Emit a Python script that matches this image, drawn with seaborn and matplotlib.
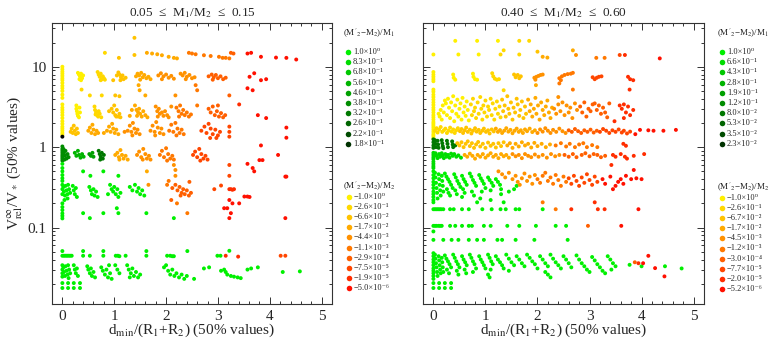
import numpy as np
import pandas as pd
import matplotlib
matplotlib.use("Agg")
import seaborn as sns
import matplotlib.pyplot as plt
from matplotlib.ticker import FixedLocator, FixedFormatter, LogLocator, NullFormatter, MultipleLocator


# colour keys: y0..y9 go yellow -> red, g0..g9 go light -> dark green
YR_COLORS = ["#fff000", "#ffd800", "#ffc300", "#ffaa00", "#ff9100",
             "#ff7800", "#ff5f00", "#ff4600", "#ff2d00", "#ff1000"]
G_COLORS = ["#00f000", "#00dc00", "#00c800", "#00b400", "#00a000",
            "#008c00", "#007800", "#006400", "#004b00", "#003200"]

left_green_labels = ["1.0×10⁰", "8.3×10⁻¹", "6.8×10⁻¹", "5.6×10⁻¹", "4.6×10⁻¹",
                     "3.8×10⁻¹", "3.2×10⁻¹", "2.6×10⁻¹", "2.2×10⁻¹", "1.8×10⁻¹"]
left_yr_labels = ["−1.0×10⁰", "−2.6×10⁻¹", "−6.6×10⁻²", "−1.7×10⁻²", "−4.4×10⁻³",
                  "−1.1×10⁻³", "−2.9×10⁻⁴", "−7.5×10⁻⁵", "−1.9×10⁻⁵", "−5.0×10⁻⁶"]
right_green_labels = ["1.0×10⁰", "6.6×10⁻¹", "4.3×10⁻¹", "2.8×10⁻¹", "1.9×10⁻¹",
                      "1.2×10⁻¹", "8.0×10⁻²", "5.3×10⁻²", "3.5×10⁻²", "2.3×10⁻²"]
right_yr_labels = ["−1.0×10⁰", "−2.6×10⁻¹", "−6.7×10⁻²", "−1.7×10⁻²", "−4.5×10⁻³",
                   "−1.2×10⁻³", "−3.0×10⁻⁴", "−7.7×10⁻⁵", "−2.0×10⁻⁵", "−5.2×10⁻⁶"]

# ---------------- left panel (0.05 <= M1/M2 <= 0.15) ----------------
left_top = [
    ("y1", [(0.82, 14.9)]),
    ("y2", [(1.09, 12.9), (1.39, 22.9), (1.39, 14.0)]),
    ("y3", [(1.63, 14.9), (1.73, 14.6), (1.83, 14.3), (1.92, 13.9), (2.05, 13.3), (2.15, 12.9), (2.21, 12.7)]),
    ("y5", [(2.44, 14.9), (2.50, 14.6), (2.57, 14.3), (2.73, 13.9), (2.86, 13.6), (3.02, 13.3),
            (3.09, 12.9), (3.15, 12.9), (3.22, 12.7)]),
    ("y6", [(3.25, 14.9), (3.30, 14.6)]),
    ("y9", [(3.57, 14.6), (3.64, 14.9), (3.83, 13.3), (4.12, 13.0), (4.32, 12.9), (4.51, 12.3)]),
]
left_x0 = [
    ("y0", [(0, 10.0), (0, 9.3), (0, 8.7), (0, 8.2), (0, 7.7), (0, 7.2), (0, 6.8), (0, 6.3), (0, 5.8),
            (0, 5.4), (0, 5.0), (0, 4.5), (0, 4.1), (0, 3.4), (0, 3.1), (0, 2.9), (0, 2.7), (0, 2.5),
            (0, 2.3), (0, 2.1), (0, 1.95), (0, 1.8), (0, 1.7), (0, 1.6), (0, 1.5), (0, 1.42)]),
    ("k", [(0, 1.35)]),
    ("g5", [(0, 1.02), (0, 0.95), (0, 0.9), (0, 0.85), (0, 0.8), (0, 0.76), (0, 0.72), (0, 0.68)]),
    ("g0", [(0, 0.62), (0, 0.55), (0, 0.5), (0, 0.45), (0, 0.41), (0, 0.38), (0, 0.2), (0, 0.18),
            (0, 0.165), (0, 0.15), (0, 0.14), (0, 0.13), (0, 0.051)]),
]
left_band8 = [
    ("y0", [(0.30, 8.4), (0.32, 8.0), (0.34, 7.6), (0.36, 8.2), (0.38, 7.2), (0.33, 7.0), (0.40, 7.8), (0.36, 6.8)]),
    ("y1", [(0.68, 8.6), (0.70, 8.0), (0.72, 7.5), (0.74, 8.2), (0.76, 7.0), (0.78, 7.6), (0.80, 7.2),
            (0.82, 6.9), (0.74, 6.8)]),
    ("y2", [(1.05, 7.8), (1.08, 8.5), (1.10, 8.0), (1.13, 7.4), (1.16, 7.8), (1.18, 7.0), (1.22, 7.3),
            (1.12, 6.8), (0.98, 6.8)]),
    ("y3", [(1.42, 7.6), (1.45, 8.2), (1.48, 7.8), (1.52, 8.4), (1.55, 7.4), (1.58, 7.9), (1.62, 7.2),
            (1.66, 7.5), (1.50, 6.9), (1.70, 7.0)]),
    ("y4", [(1.85, 7.8), (1.90, 8.3), (1.95, 7.6), (2.00, 8.0), (2.05, 7.3), (2.10, 7.7), (1.92, 7.0),
            (2.15, 7.1), (2.28, 8.2), (2.32, 7.8), (2.36, 8.4), (2.40, 7.5), (2.45, 7.9), (2.50, 7.2),
            (2.38, 7.0), (2.55, 7.4)]),
    ("y6", [(2.82, 7.6), (2.88, 8.0), (2.92, 7.4), (2.96, 7.9), (3.00, 7.2), (3.05, 7.6), (3.10, 7.0),
            (3.15, 7.3), (2.90, 6.9)]),
    ("y9", [(3.61, 7.5), (3.70, 8.3), (3.83, 6.8), (3.93, 7.0), (3.57, 5.4), (3.67, 5.1)]),
]
left_band5 = [
    ("y1", [(0.37, 5.2), (0.53, 4.4), (0.76, 4.4)]),
    ("y2", [(1.02, 4.4), (1.10, 4.3)]),
    ("y3", [(1.47, 5.9), (1.49, 5.1), (1.60, 4.4)]),
    ("y4", [(2.18, 4.4)]),
    ("y5", [(2.57, 5.9), (2.60, 5.1)]),
    ("y6", [(3.22, 4.4)]),
]
left_band27 = [
    ("y0", [(0.27, 3.3), (0.27, 3.0), (0.28, 2.8), (0.29, 2.6), (0.30, 2.45), (0.32, 2.35), (0.34, 2.7), (0.33, 3.1)]),
    ("y1", [(0.62, 3.2), (0.63, 2.9), (0.65, 2.7), (0.67, 2.5), (0.69, 2.4), (0.72, 2.6), (0.70, 2.8),
            (0.75, 2.35), (0.64, 2.55)]),
    ("y2", [(0.90, 2.8), (0.95, 3.0), (0.98, 2.7), (1.00, 3.3), (1.02, 2.5), (1.05, 2.9), (1.08, 2.4),
            (1.10, 2.6), (1.12, 2.35), (1.04, 2.4)]),
    ("y3", [(1.40, 3.3), (1.43, 2.9), (1.46, 2.7), (1.48, 3.0), (1.50, 2.6), (1.53, 2.4), (1.56, 2.8),
            (1.60, 2.5), (1.64, 2.35), (1.44, 2.45), (1.34, 2.9), (1.30, 2.45)]),
    ("y4", [(1.80, 3.2), (1.83, 2.8), (1.86, 3.0), (1.88, 2.6), (1.92, 2.7), (1.95, 2.45), (1.98, 2.8),
            (2.02, 2.5), (2.05, 2.35), (1.84, 2.4), (2.10, 3.2)]),
    ("y5", [(2.20, 3.1), (2.24, 2.8), (2.27, 3.3), (2.30, 2.6), (2.33, 2.9), (2.36, 2.5), (2.40, 2.7),
            (2.44, 2.4), (2.48, 2.55), (2.25, 2.4), (2.60, 3.3)]),
    ("y6", [(2.82, 3.0), (2.86, 2.7), (2.90, 3.2), (2.94, 2.5), (2.98, 2.8), (3.02, 2.4), (3.06, 2.65),
            (3.10, 2.35), (3.14, 2.5), (3.00, 3.3)]),
    ("y8", [(3.41, 3.4)]),
    ("y9", [(3.77, 2.5), (3.93, 2.3)]),
]
left_band17 = [
    ("y2", [(0.16, 1.55), (0.18, 1.7), (0.20, 1.5), (0.22, 1.85), (0.24, 1.6), (0.26, 1.45), (0.28, 1.7), (0.30, 1.5)]),
    ("y3", [(0.50, 1.6), (0.53, 1.75), (0.56, 1.5), (0.58, 1.9), (0.60, 1.65), (0.63, 1.45), (0.66, 1.6),
            (0.69, 1.5), (0.86, 1.6), (0.90, 1.8), (0.93, 1.55), (0.96, 1.95), (0.98, 1.7), (1.01, 1.5),
            (1.04, 1.65), (1.08, 1.45), (0.80, 1.5)]),
    ("y4", [(1.26, 1.6), (1.30, 1.85), (1.33, 1.55), (1.36, 2.0), (1.39, 1.7), (1.42, 1.5), (1.45, 1.65),
            (1.49, 1.45), (1.35, 1.4), (1.20, 1.55), (1.70, 1.6), (1.74, 1.85), (1.78, 1.55), (1.81, 2.05),
            (1.84, 1.75), (1.88, 1.5), (1.91, 1.7), (1.95, 1.45), (1.79, 1.4)]),
    ("y5", [(2.06, 1.6), (2.10, 1.9), (2.14, 1.55), (2.18, 2.0), (2.22, 1.7), (2.26, 1.5), (2.30, 1.65),
            (2.34, 1.45), (2.20, 1.4)]),
    ("y7", [(2.68, 1.6), (2.74, 1.8), (2.78, 1.5), (2.82, 1.95), (2.86, 1.7), (2.90, 1.45), (2.95, 1.65),
            (3.00, 1.4), (3.04, 1.55), (2.85, 1.3), (2.97, 1.3), (3.22, 1.8), (3.22, 1.55), (3.22, 1.35)]),
    ("y9", [(4.32, 1.75), (4.32, 1.31), (3.83, 1.05), (4.16, 0.8)]),
]
left_band08 = [
    ("g5", [(0.02, 0.95), (0.03, 0.85), (0.05, 0.78), (0.06, 0.9), (0.08, 0.72), (0.10, 0.82), (0.12, 0.75), (0.04, 0.7)]),
    ("g3", [(0.24, 0.85), (0.27, 0.78), (0.30, 0.9), (0.32, 0.8), (0.35, 0.74), (0.38, 0.82), (0.41, 0.76)]),
    ("g4", [(0.52, 0.82), (0.55, 0.78), (0.58, 0.85), (0.60, 0.76)]),
    ("g6", [(0.70, 0.9), (0.72, 0.82), (0.74, 0.76), (0.76, 0.85), (0.78, 0.72), (0.80, 0.8), (0.73, 0.7)]),
    ("y3", [(1.02, 0.8), (1.06, 0.85), (1.09, 0.75), (1.12, 0.92), (1.15, 0.8), (1.18, 0.72), (1.22, 0.78),
            (1.26, 0.7), (1.10, 0.7)]),
    ("y4", [(1.44, 0.8), (1.48, 0.88), (1.52, 0.75), (1.56, 0.95), (1.60, 0.82), (1.63, 0.72), (1.67, 0.78),
            (1.70, 0.7), (1.55, 0.7)]),
    ("y5", [(1.88, 0.8), (1.92, 0.9), (1.96, 0.75), (2.00, 0.97), (2.04, 0.82), (2.08, 0.72), (2.12, 0.78),
            (2.15, 0.7), (2.02, 0.68)]),
    ("y7", [(2.52, 0.8), (2.56, 0.88), (2.60, 0.75), (2.64, 0.95), (2.68, 0.82), (2.72, 0.72), (2.76, 0.78),
            (2.80, 0.7), (2.66, 0.68)]),
]
left_band05 = [
    ("g0", [(0.40, 0.5), (0.54, 0.44), (0.79, 0.5), (1.08, 0.44)]),
    ("y3", [(1.63, 0.5)]),
    ("y4", [(2.15, 0.6), (2.18, 0.52), (2.18, 0.44)]),
    ("y7", [(3.22, 0.6), (3.22, 0.44)]),
    ("y9", [(3.57, 0.62), (3.67, 0.55), (3.70, 0.5), (3.80, 0.69), (3.86, 0.69), (4.32, 0.43)]),
]
left_band03 = [
    ("g0", [(0.0, 0.34), (0.0, 0.30), (0.0, 0.26), (0.02, 0.32), (0.03, 0.28), (0.05, 0.25), (0.06, 0.33),
            (0.08, 0.29), (0.10, 0.26), (0.11, 0.34), (0.13, 0.3), (0.15, 0.27), (0.04, 0.22), (0.10, 0.23),
            (0.20, 0.33), (0.22, 0.29), (0.24, 0.26), (0.26, 0.31), (0.28, 0.24),
            (0.52, 0.32), (0.55, 0.29), (0.57, 0.26), (0.60, 0.3), (0.62, 0.25), (0.65, 0.28), (0.68, 0.24),
            (0.92, 0.34), (0.95, 0.3), (0.98, 0.28), (1.00, 0.32), (1.03, 0.26), (1.06, 0.3), (1.08, 0.24),
            (1.12, 0.27), (0.88, 0.26), (1.30, 0.32), (1.35, 0.29), (1.40, 0.34), (1.44, 0.28), (1.47, 0.31),
            (1.50, 0.26), (1.54, 0.29), (1.58, 0.25), (0.40, 0.151), (0.53, 0.131), (0.79, 0.151),
            (1.05, 0.174), (1.08, 0.151), (1.62, 0.151), (2.15, 0.131)]),
    ("y4", [(1.66, 0.34)]),
    ("y5", [(2.02, 0.34), (2.05, 0.38), (2.21, 0.2), (2.41, 0.151)]),
    ("y6", [(2.12, 0.31), (2.18, 0.34), (2.22, 0.29), (2.26, 0.32), (2.30, 0.27), (2.33, 0.3), (2.36, 0.26),
            (2.40, 0.29), (2.44, 0.25), (2.48, 0.27), (2.28, 0.25), (2.10, 0.22), (2.45, 0.37)]),
    ("y7", [(2.93, 0.30), (3.06, 0.333)]),
    ("y8", [(3.22, 0.30), (3.25, 0.30), (3.28, 0.295), (3.31, 0.30)]),
    ("y9", [(3.22, 0.22), (3.28, 0.20), (3.12, 0.174), (3.18, 0.174), (3.25, 0.151), (3.22, 0.131),
            (3.41, 0.20), (3.51, 0.243), (3.57, 0.243), (3.61, 0.24), (4.30, 0.43), (4.30, 0.131)]),
]
left_band005 = [
    ("g0", [(0.0, 0.0446), (0.03, 0.0446), (0.06, 0.0446), (0.09, 0.0446), (0.12, 0.0446), (0.15, 0.0446),
            (0.18, 0.0446), (0.40, 0.051), (0.40, 0.0446), (0.53, 0.0446), (0.79, 0.051), (0.79, 0.0446),
            (1.03, 0.0446), (1.07, 0.0446), (1.10, 0.044), (1.22, 0.0446), (1.62, 0.051), (1.62, 0.0446),
            (2.02, 0.0446), (2.08, 0.0446), (2.12, 0.044), (2.15, 0.044), (2.41, 0.051), (2.99, 0.0446),
            (3.05, 0.0446), (3.22, 0.0514)]),
    ("y8", [(3.15, 0.0446), (3.39, 0.0435)]),
    ("y7", [(4.21, 0.0446), (4.30, 0.0446)]),
]
left_band0026 = [
    ("g0", [(0.0, 0.034), (0.0, 0.030), (0.0, 0.027), (0.0, 0.0245), (0.02, 0.032), (0.03, 0.028),
            (0.05, 0.025), (0.06, 0.033), (0.08, 0.029), (0.10, 0.026), (0.11, 0.034), (0.13, 0.03),
            (0.15, 0.027), (0.12, 0.0235), (0.22, 0.034), (0.24, 0.03), (0.26, 0.027), (0.28, 0.031),
            (0.30, 0.025), (0.48, 0.033), (0.50, 0.03), (0.53, 0.027), (0.55, 0.031), (0.57, 0.025),
            (0.60, 0.028), (0.63, 0.024), (0.75, 0.032), (0.78, 0.029), (0.82, 0.026), (0.85, 0.03),
            (0.88, 0.024), (0.92, 0.027), (0.95, 0.023), (0.90, 0.034), (1.02, 0.034), (1.06, 0.03),
            (1.10, 0.027), (1.25, 0.034), (1.28, 0.03), (1.32, 0.027), (1.35, 0.031), (1.38, 0.025),
            (1.42, 0.028), (1.46, 0.024), (1.50, 0.026), (1.30, 0.024), (1.96, 0.032), (2.00, 0.034),
            (2.04, 0.029), (2.08, 0.026), (2.12, 0.03), (2.16, 0.025), (2.20, 0.027), (2.25, 0.024),
            (2.30, 0.026), (2.35, 0.023), (2.40, 0.025), (2.54, 0.023), (2.73, 0.031), (2.83, 0.032),
            (3.06, 0.029), (3.12, 0.03), (3.15, 0.028), (3.18, 0.026), (3.25, 0.025), (3.31, 0.0245),
            (3.38, 0.024), (3.44, 0.0235), (3.57, 0.030), (3.64, 0.031), (3.77, 0.032), (4.25, 0.028),
            (4.58, 0.0285)]),
]
left_bottom = [
    ("g0", [(0.0, 0.0204), (0.11, 0.0204), (0.22, 0.0204), (0.34, 0.0204),
            (0.0, 0.0177), (0.11, 0.0177), (0.22, 0.0177), (0.34, 0.0177)]),
]

# ---------------- right panel (0.40 <= M1/M2 <= 0.60) ----------------
right_top = [
    ("y0", [(0.42, 21.0), (0.84, 21.0), (1.24, 21.0), (0.0, 14.2), (0.48, 14.2), (0.87, 14.2)]),
    ("y1", [(1.65, 21.0), (1.84, 21.0), (1.29, 14.2), (1.35, 16.0), (1.65, 14.2)]),
    ("y2", [(2.00, 15.4)]),
    ("y3", [(2.10, 13.3), (2.19, 13.0), (2.68, 16.0)]),
    ("y4", [(2.74, 14.0)]),
    ("y5", [(3.13, 12.9), (3.29, 12.9)]),
    ("y7", [(3.58, 14.0)]),
    ("y8", [(3.68, 14.0)]),
    ("y9", [(4.35, 12.7)]),
]
right_band8 = [
    ("y0", [(0, 8.6), (0, 8.0), (0, 7.5), (0, 7.0), (0, 6.6), (0, 5.2), (0, 4.9), (0.38, 8.0), (0.39, 7.3),
            (0.42, 6.9), (0.76, 8.2), (0.77, 7.5), (0.80, 7.0), (0.84, 6.9)]),
    ("y1", [(1.13, 8.3), (1.15, 7.6), (1.18, 7.1), (1.22, 6.9), (1.26, 7.0), (1.35, 5.1)]),
    ("y2", [(1.55, 8.0), (1.58, 7.4), (1.62, 7.9), (1.65, 7.2), (1.68, 7.6)]),
    ("y3", [(1.97, 5.9)]),
    ("y4", [(1.94, 7.3), (1.98, 7.5), (2.02, 7.7), (2.06, 7.9), (2.10, 8.0), (1.96, 6.9)]),
    ("y5", [(2.42, 7.2), (2.47, 7.6), (2.52, 7.9), (2.58, 8.1), (2.64, 8.2), (2.68, 8.4), (2.45, 6.8),
            (2.68, 5.2), (2.42, 6.2)]),
    ("y7", [(3.06, 7.4), (3.10, 7.0), (3.14, 7.3), (3.18, 7.5), (3.23, 7.6)]),
    ("y8", [(3.74, 7.5), (3.78, 7.0), (3.84, 6.8), (3.77, 5.2)]),
]
right_band3 = [
    ("y0", [(0, 4.5), (0, 4.2), (0, 3.9), (0, 3.6), (0, 3.35), (0, 3.1), (0, 2.9), (0, 2.7), (0, 2.5),
            (0, 2.35), (0, 2.2), (0, 2.05), (0, 1.95), (0, 1.85), (0, 1.75), (0, 1.65), (0, 1.55), (0, 1.45),
            (0, 1.38), (0, 1.3), (0.10, 2.6), (0.12, 2.4), (0.14, 2.9), (0.16, 2.2), (0.18, 3.3), (0.20, 2.7),
            (0.22, 3.8), (0.24, 3.5), (0.26, 2.5), (0.28, 4.0), (0.30, 3.1), (0.32, 2.3), (0.34, 3.6),
            (0.36, 2.8), (0.38, 4.3), (0.40, 2.1), (0.42, 3.3), (0.44, 2.6), (0.46, 3.9), (0.48, 2.4),
            (0.50, 3.0), (0.52, 3.5), (0.54, 2.2), (0.56, 4.1), (0.58, 2.7), (0.60, 3.2), (0.62, 2.45),
            (0.64, 3.7), (0.66, 2.9), (0.68, 2.15)]),
    ("y1", [(0.72, 3.4), (0.74, 2.5), (0.76, 4.0), (0.78, 2.8), (0.80, 3.1), (0.82, 2.3), (0.85, 3.6),
            (0.87, 2.6), (0.90, 4.2), (0.92, 3.0), (0.94, 2.2), (0.96, 3.3), (0.98, 2.7), (1.00, 3.8),
            (1.03, 2.4), (1.05, 3.2), (1.07, 2.9), (1.10, 4.0), (1.12, 2.5), (1.14, 3.5), (1.17, 2.2),
            (1.19, 3.0), (1.22, 3.7), (1.24, 2.6), (1.27, 3.2), (1.29, 2.35)]),
    ("y2", [(1.32, 3.9), (1.34, 2.8), (1.37, 3.3), (1.39, 2.4), (1.42, 4.3), (1.44, 3.0), (1.46, 2.6),
            (1.49, 3.6), (1.52, 2.2), (1.54, 3.1), (1.57, 2.7), (1.60, 4.0), (1.62, 3.4), (1.65, 2.45),
            (1.67, 2.9), (1.70, 3.7), (1.73, 2.3), (1.76, 3.2), (1.78, 2.6)]),
    ("y3", [(1.82, 3.9), (1.85, 2.8), (1.87, 3.4), (1.90, 2.4), (1.93, 3.0), (1.96, 4.1), (1.98, 2.6),
            (2.01, 3.3), (2.04, 2.2), (2.07, 3.6), (2.10, 2.9), (2.13, 2.5), (2.16, 3.2), (2.19, 3.8),
            (2.22, 2.7), (2.25, 2.3), (2.28, 3.1)]),
    ("y4", [(2.32, 3.0), (2.36, 2.6), (2.40, 3.4), (2.44, 2.8), (2.48, 3.6), (2.52, 2.5), (2.56, 3.3),
            (2.60, 2.7), (2.63, 3.1), (2.67, 2.3), (2.72, 3.5), (2.76, 2.9), (2.40, 4.2)]),
    ("y6", [(2.82, 3.2), (2.86, 2.7), (2.90, 3.6), (2.94, 2.4), (2.98, 3.0), (3.02, 2.8), (3.06, 3.4),
            (3.10, 3.5), (3.14, 2.9), (3.18, 3.3), (3.22, 2.6), (3.26, 3.1), (3.30, 2.7), (3.34, 2.35),
            (3.38, 3.5)]),
    ("y8", [(3.58, 3.3), (3.62, 3.0), (3.66, 3.4), (3.70, 2.7), (3.74, 3.2), (3.78, 2.5), (3.84, 2.9),
            (3.48, 2.1), (3.66, 2.3)]),
]
right_band16 = [
    ("y1", [(0.03, 1.6), (0.06, 1.72), (0.08, 1.52), (0.11, 1.65), (0.14, 1.78), (0.17, 1.55), (0.20, 1.62),
            (0.23, 1.7), (0.26, 1.5), (0.29, 1.6), (0.32, 1.75), (0.35, 1.56), (0.38, 1.66), (0.41, 1.5),
            (0.44, 1.62), (0.47, 1.72)]),
    ("y2", [(0.51, 1.58), (0.54, 1.68), (0.57, 1.5), (0.60, 1.62), (0.63, 1.75), (0.66, 1.55), (0.70, 1.65),
            (0.73, 1.48), (0.76, 1.6), (0.80, 1.72), (0.83, 1.56), (0.87, 1.64), (0.90, 1.5), (0.94, 1.6),
            (0.97, 1.7), (1.01, 1.55), (1.05, 1.62), (1.08, 1.48), (1.12, 1.66), (1.16, 1.57)]),
    ("y3", [(1.20, 1.7), (1.24, 1.55), (1.28, 1.63), (1.32, 1.5), (1.36, 1.6), (1.40, 1.72), (1.44, 1.56),
            (1.48, 1.64), (1.52, 1.49), (1.56, 1.6), (1.60, 1.7), (1.64, 1.55), (1.68, 1.62), (1.72, 1.5),
            (1.76, 1.66), (1.80, 1.58), (1.85, 1.7), (1.90, 1.54), (1.95, 1.62)]),
    ("y4", [(2.00, 1.5), (2.05, 1.66), (2.10, 1.56), (2.15, 1.72), (2.20, 1.6), (2.25, 1.5), (2.30, 1.64),
            (2.36, 1.55), (2.42, 1.7), (2.48, 1.58), (2.54, 1.5)]),
    ("y6", [(2.60, 1.62), (2.66, 1.55), (2.72, 1.68), (2.78, 1.58), (2.84, 1.5), (2.90, 1.62), (2.96, 1.55),
            (3.02, 1.65), (3.08, 1.52), (3.14, 1.6)]),
    ("y7", [(3.20, 1.55), (3.26, 1.68), (3.32, 1.6), (3.38, 1.5), (3.44, 1.62), (3.50, 1.55), (3.56, 1.66),
            (3.62, 1.52), (3.66, 1.6), (3.72, 1.48), (3.78, 1.56)]),
    ("y9", [(3.97, 1.64), (4.13, 1.62), (4.23, 1.6), (4.42, 1.6), (4.66, 1.64), (3.88, 1.45)]),
]
right_band11 = [
    ("g6", [(0.0, 1.25), (0.0, 1.15), (0.0, 1.05), (0.0, 0.98), (0.03, 1.22), (0.04, 1.1), (0.05, 1.0),
            (0.08, 1.2), (0.09, 1.08), (0.10, 0.98), (0.16, 1.22), (0.17, 1.12), (0.18, 1.03), (0.19, 0.97),
            (0.26, 1.2), (0.27, 1.1), (0.28, 1.0), (0.36, 1.18), (0.37, 1.08), (0.38, 1.0), (0.42, 1.05)]),
    ("y2", [(0.46, 1.12), (0.50, 1.05), (0.54, 1.15), (0.58, 1.0), (0.62, 1.1), (0.66, 1.18), (0.70, 1.03),
            (0.74, 1.12), (0.78, 0.98), (0.82, 1.08), (0.86, 1.16), (0.90, 1.02), (0.95, 1.1), (1.00, 0.98),
            (1.05, 1.14), (1.10, 1.04), (1.15, 1.1), (1.20, 0.99), (1.25, 1.12), (1.30, 1.03), (1.35, 1.15)]),
    ("y3", [(1.42, 1.05), (1.47, 1.12), (1.52, 0.98), (1.58, 1.1), (1.64, 1.02), (1.70, 1.15), (1.76, 1.05),
            (1.82, 1.1), (1.88, 0.99), (1.94, 1.13), (2.00, 1.03), (2.08, 1.1), (2.16, 1.0), (2.24, 1.08)]),
    ("y5", [(2.35, 1.05), (2.45, 1.12), (2.55, 1.02), (2.62, 1.1), (2.72, 1.0), (2.80, 1.08), (2.88, 1.12),
            (2.95, 1.0), (3.05, 1.06), (3.15, 1.0)]),
    ("y8", [(3.65, 1.1), (3.70, 1.04)]),
]
right_band08 = [
    ("g1", [(0.0, 0.85), (0.0, 0.8), (0.0, 0.75), (0.0, 0.71), (0.04, 0.84), (0.06, 0.78), (0.08, 0.73),
            (0.11, 0.82), (0.13, 0.76), (0.16, 0.84), (0.18, 0.79), (0.20, 0.73), (0.23, 0.82), (0.25, 0.76),
            (0.28, 0.8), (0.31, 0.74), (0.34, 0.83), (0.37, 0.78), (0.40, 0.82), (0.44, 0.76), (0.48, 0.79),
            (0.53, 0.74), (0.0, 0.66), (0.0, 0.62), (0.0, 0.58), (0.0, 0.55)]),
    ("y3", [(0.60, 0.8), (0.65, 0.76), (0.70, 0.83), (0.75, 0.78), (0.80, 0.72), (0.85, 0.8), (0.90, 0.76),
            (0.95, 0.82), (1.00, 0.74), (1.05, 0.79), (1.10, 0.84), (1.15, 0.76), (1.20, 0.8), (1.25, 0.73),
            (1.30, 0.82), (1.35, 0.77), (1.40, 0.8), (1.45, 0.74)]),
    ("y4", [(1.52, 0.82), (1.58, 0.77), (1.64, 0.8), (1.70, 0.73), (1.76, 0.82), (1.82, 0.78), (1.88, 0.75),
            (1.95, 0.81), (2.02, 0.76), (2.10, 0.8), (2.18, 0.74), (2.26, 0.82), (2.34, 0.77), (2.42, 0.8)]),
    ("y6", [(2.52, 0.8), (2.60, 0.76), (2.68, 0.82), (2.75, 0.75), (2.85, 0.8), (2.92, 0.84), (3.00, 0.77),
            (3.08, 0.82), (3.15, 0.8), (3.22, 0.75), (3.30, 0.78)]),
    ("y8", [(3.45, 0.8), (3.50, 0.76), (3.60, 0.82), (3.68, 0.76), (3.72, 0.72), (3.85, 0.78), (4.05, 0.82),
            (3.42, 0.6)]),
    ("y9", [(3.85, 0.52)]),
]
right_band035 = [
    ("g0", [(0.0, 0.5), (0.0, 0.45), (0.0, 0.41), (0.0, 0.37), (0.0, 0.34), (0.0, 0.31), (0.0, 0.28),
            (0.0, 0.26), (0.0, 0.24), (0.0, 0.22), (0.03, 0.48), (0.04, 0.42), (0.05, 0.36), (0.06, 0.31),
            (0.07, 0.27), (0.08, 0.23), (0.10, 0.46), (0.11, 0.4), (0.12, 0.34), (0.13, 0.29), (0.14, 0.25),
            (0.16, 0.44), (0.17, 0.38), (0.18, 0.33), (0.19, 0.28), (0.22, 0.47), (0.25, 0.43), (0.28, 0.4),
            (0.31, 0.37), (0.34, 0.34), (0.37, 0.31), (0.26, 0.3), (0.29, 0.27), (0.32, 0.25), (0.40, 0.46),
            (0.43, 0.42), (0.46, 0.38), (0.49, 0.35), (0.52, 0.32), (0.42, 0.29), (0.45, 0.26), (0.55, 0.44),
            (0.58, 0.4), (0.61, 0.37), (0.64, 0.34), (0.57, 0.3), (0.60, 0.27), (0.70, 0.47), (0.73, 0.43),
            (0.76, 0.39), (0.79, 0.36), (0.82, 0.33), (0.74, 0.28), (0.78, 0.25), (0.88, 0.45), (0.91, 0.41),
            (0.94, 0.38), (0.97, 0.35), (1.00, 0.31), (0.93, 0.28), (1.05, 0.42), (1.08, 0.39), (1.12, 0.36),
            (1.15, 0.33), (1.10, 0.29), (1.20, 0.4), (1.24, 0.37), (1.28, 0.34), (1.30, 0.3), (0.55, 0.24),
            (0.90, 0.23), (1.30, 0.26), (1.45, 0.28), (1.55, 0.30), (1.60, 0.33), (1.10, 0.22)]),
    ("y4", [(1.25, 0.5), (1.32, 0.46), (1.38, 0.42), (1.45, 0.48), (1.52, 0.4), (1.58, 0.44), (1.62, 0.37),
            (1.66, 0.34), (1.70, 0.41), (1.75, 0.47), (1.80, 0.38), (1.85, 0.43), (1.90, 0.35), (1.95, 0.45)]),
    ("y5", [(2.00, 0.4), (2.05, 0.36), (2.10, 0.44), (2.15, 0.48), (2.20, 0.38), (2.25, 0.42), (2.30, 0.35),
            (2.35, 0.45), (2.40, 0.39), (2.45, 0.33), (2.50, 0.43), (2.55, 0.37)]),
    ("y7", [(2.60, 0.41), (2.65, 0.35), (2.70, 0.44), (2.75, 0.38), (2.80, 0.33), (2.85, 0.42), (2.90, 0.36),
            (2.95, 0.46), (3.00, 0.39), (3.05, 0.34), (3.10, 0.43), (3.15, 0.37)]),
    ("y9", [(3.25, 0.4), (3.30, 0.35), (3.40, 0.43), (3.45, 0.3), (3.50, 0.33), (3.55, 0.37), (3.60, 0.4),
            (3.65, 0.35), (3.70, 0.44), (3.80, 0.4), (3.90, 0.41), (4.00, 0.4)]),
]
right_band017 = [
    ("g0", [(0.0, 0.169), (0.03, 0.169), (0.06, 0.169), (0.09, 0.169), (0.12, 0.169), (0.15, 0.169),
            (0.19, 0.169), (0.32, 0.169), (0.39, 0.169), (0.55, 0.169), (0.68, 0.169), (0.94, 0.169),
            (1.12, 0.169), (1.29, 0.169), (1.39, 0.169), (1.58, 0.169), (1.65, 0.169), (2.10, 0.169),
            (0.0, 0.206), (0.84, 0.206), (1.35, 0.206)]),
    ("y5", [(2.35, 0.169), (2.10, 0.206)]),
    ("y8", [(2.65, 0.169), (3.16, 0.169), (3.29, 0.169), (3.10, 0.206)]),
    ("y9", [(3.94, 0.169)]),
]
right_band01 = [
    ("g0", [(0.0, 0.105), (0.03, 0.105), (0.06, 0.105), (0.10, 0.105), (0.13, 0.105), (0.16, 0.105),
            (0.32, 0.105), (0.42, 0.105), (0.55, 0.105), (0.68, 0.105), (0.74, 0.105), (0.97, 0.105),
            (1.10, 0.105), (1.42, 0.105), (1.65, 0.105), (1.97, 0.105), (2.35, 0.105), (2.55, 0.105),
            (0.0, 0.0895), (0.0, 0.0703), (0.19, 0.0703), (0.35, 0.0703), (0.48, 0.0703), (0.68, 0.0703),
            (0.84, 0.0703), (0.97, 0.0703), (1.23, 0.0703), (1.32, 0.0703), (1.58, 0.0703), (1.94, 0.0703),
            (2.58, 0.0703)]),
    ("y6", [(2.97, 0.105)]),
    ("y9", [(3.61, 0.105)]),
]
right_band003 = [
    ("g0", [(0.0, 0.048), (0.0, 0.044), (0.0, 0.04), (0.0, 0.037), (0.0, 0.034), (0.0, 0.031), (0.0, 0.029),
            (0.0, 0.027), (0.0, 0.025), (0.0, 0.023), (0.03, 0.046), (0.04, 0.041), (0.05, 0.036),
            (0.06, 0.032), (0.07, 0.028), (0.08, 0.025), (0.10, 0.044), (0.11, 0.039), (0.12, 0.034),
            (0.13, 0.03), (0.14, 0.027), (0.16, 0.042), (0.17, 0.037), (0.18, 0.032), (0.19, 0.028),
            (0.22, 0.045), (0.25, 0.041), (0.28, 0.038), (0.31, 0.035), (0.34, 0.032), (0.26, 0.03),
            (0.30, 0.027), (0.38, 0.046), (0.41, 0.042), (0.44, 0.038), (0.47, 0.035), (0.50, 0.032),
            (0.45, 0.029), (0.48, 0.026), (0.55, 0.044), (0.58, 0.04), (0.61, 0.037), (0.64, 0.034),
            (0.60, 0.03), (0.63, 0.027), (0.70, 0.046), (0.73, 0.042), (0.76, 0.038), (0.79, 0.035),
            (0.82, 0.031), (0.76, 0.028), (0.88, 0.044), (0.91, 0.04), (0.94, 0.037), (0.97, 0.034),
            (1.00, 0.031), (1.05, 0.046), (1.08, 0.042), (1.11, 0.038), (1.14, 0.035), (1.10, 0.03),
            (1.05, 0.026), (1.08, 0.024), (1.20, 0.044), (1.24, 0.04), (1.28, 0.037), (1.32, 0.034),
            (1.35, 0.031), (1.40, 0.046), (1.45, 0.041), (1.50, 0.037), (1.55, 0.034), (1.45, 0.029),
            (1.60, 0.044), (1.65, 0.04), (1.70, 0.036), (1.75, 0.033), (1.80, 0.046), (1.85, 0.042),
            (1.90, 0.038), (1.95, 0.035), (2.00, 0.031), (2.05, 0.044), (2.10, 0.04), (2.15, 0.036),
            (2.20, 0.033), (2.15, 0.028), (2.20, 0.026), (2.25, 0.024), (2.25, 0.046), (2.30, 0.041),
            (2.35, 0.037), (2.40, 0.034), (2.45, 0.031), (2.50, 0.044), (2.55, 0.04), (2.60, 0.036),
            (2.65, 0.032), (2.75, 0.045), (2.80, 0.04), (2.85, 0.036), (2.90, 0.033), (2.95, 0.03),
            (3.00, 0.028), (3.05, 0.043), (3.10, 0.039), (3.15, 0.035), (3.20, 0.032), (3.25, 0.029),
            (3.30, 0.027), (3.35, 0.044), (3.40, 0.04), (3.45, 0.036), (3.50, 0.033), (3.42, 0.03),
            (3.77, 0.0344), (4.00, 0.033), (4.45, 0.033), (4.77, 0.031)]),
    ("y6", [(3.87, 0.037)]),
    ("y8", [(3.94, 0.036)]),
    ("y9", [(4.03, 0.036), (4.13, 0.0445), (4.26, 0.0313), (4.44, 0.0247)]),
]
right_bottom = [
    ("g0", [(0.0, 0.0204), (0.11, 0.0204), (0.22, 0.0204), (0.34, 0.0204),
            (0.0, 0.0177), (0.11, 0.0177), (0.22, 0.0177), (0.34, 0.0177)]),
]

left_groups = [left_top, left_x0, left_band8, left_band5, left_band27, left_band17, left_band08,
               left_band05, left_band03, left_band005, left_band0026, left_bottom]
right_groups = [right_top, right_band8, right_band3, right_band16, right_band11, right_band08,
                right_band035, right_band017, right_band01, right_band003, right_bottom]


def to_frame(groups):
    rows = []
    for group in groups:
        for code, pts in group:
            for x, y in pts:
                rows.append((x, y, code))
    return pd.DataFrame(rows, columns=["x", "y", "c"])


palette = {f"y{i}": c for i, c in enumerate(YR_COLORS)}
palette.update({f"g{i}": c for i, c in enumerate(G_COLORS)})
palette["k"] = "#000000"

sns.set_theme(style="ticks")
plt.rcParams["font.family"] = ["Liberation Serif", "DejaVu Serif"]
plt.rcParams["mathtext.fontset"] = "stix"

W, H = 771, 343
fig = plt.figure(figsize=(W / 100, H / 100), dpi=100)
ax_l = fig.add_axes([52 / W, 1 - 304 / H, 280 / W, 281 / H])
ax_r = fig.add_axes([423 / W, 1 - 304 / H, 281 / W, 281 / H])


def style_axes(ax, show_ylabels):
    ax.set_yscale("log")
    ax.set_xlim(-0.2, 5.2)
    ax.set_ylim(0.0112, 35)
    ax.xaxis.set_major_locator(MultipleLocator(1))
    ax.xaxis.set_minor_locator(MultipleLocator(0.2))
    ax.yaxis.set_major_locator(FixedLocator([0.1, 1, 10]))
    ax.yaxis.set_minor_locator(LogLocator(base=10, subs=np.arange(2, 10)))
    ax.yaxis.set_minor_formatter(NullFormatter())
    if show_ylabels:
        ax.yaxis.set_major_formatter(FixedFormatter(["0.1", "1", "10"]))
    else:
        ax.yaxis.set_major_formatter(NullFormatter())
    ax.tick_params(which="both", direction="in", top=True, right=True, width=0.7, color="#333333")
    ax.tick_params(which="major", length=5, labelsize=11, pad=4)
    ax.tick_params(which="minor", length=2.5)
    for s in ax.spines.values():
        s.set_linewidth(0.8)
        s.set_color("#333333")
    ax.set_xlabel(r"d$_{\rm min}$/(R$_1$+R$_2$) (50% values)", fontsize=11, labelpad=-1)
    if show_ylabels:
        ax.set_ylabel(r"V$^{\infty}_{\rm rel}$/V$_*$ (50% values)", fontsize=11, labelpad=2)
    else:
        ax.set_ylabel("")


for ax, groups in [(ax_l, left_groups), (ax_r, right_groups)]:
    df = to_frame(groups)
    sns.scatterplot(data=df, x="x", y="y", hue="c", palette=palette, s=8, linewidth=0,
                    legend=False, ax=ax)
style_axes(ax_l, True)
style_axes(ax_r, False)

ax_l.set_title("0.05  ≤  M$_1$/M$_2$  ≤  0.15", fontsize=9.5, pad=5)
ax_r.set_title("0.40  ≤  M$_1$/M$_2$  ≤  0.60", fontsize=9.5, pad=5)


# colour keys at the right of each panel
def draw_key(ax, x_title, x_mark, y_title, y_first, step, title, labels, colors):
    fig.text(x_title / W, 1 - y_title / H, title, fontsize=6.5, va="center", ha="left")
    for i, (lab, col) in enumerate(zip(labels, colors)):
        yy = 1 - (y_first + i * step) / H
        ax.plot([x_mark / W], [yy], "o", color=col, markersize=4, markeredgewidth=0,
                transform=fig.transFigure, clip_on=False)
        fig.text((x_mark + 5) / W, yy, lab, fontsize=6, va="center", ha="left")


key_title_1 = r"($\mathrm{M}'_2$−M$_2$)/M$_1$"
key_title_2 = r"($\mathrm{M}'_2$−M$_2$)/M$_2$"
draw_key(ax_l, 343, 348, 33, 52, 10.2, key_title_1, left_green_labels, G_COLORS)
draw_key(ax_l, 343, 349, 186, 197, 10.1, key_title_2, left_yr_labels, YR_COLORS)
draw_key(ax_r, 717, 722, 33, 52, 10.2, key_title_1, right_green_labels, G_COLORS)
draw_key(ax_r, 717, 722, 187, 198, 10.1, key_title_2, right_yr_labels, YR_COLORS)

fig.savefig("out.png", dpi=100)
